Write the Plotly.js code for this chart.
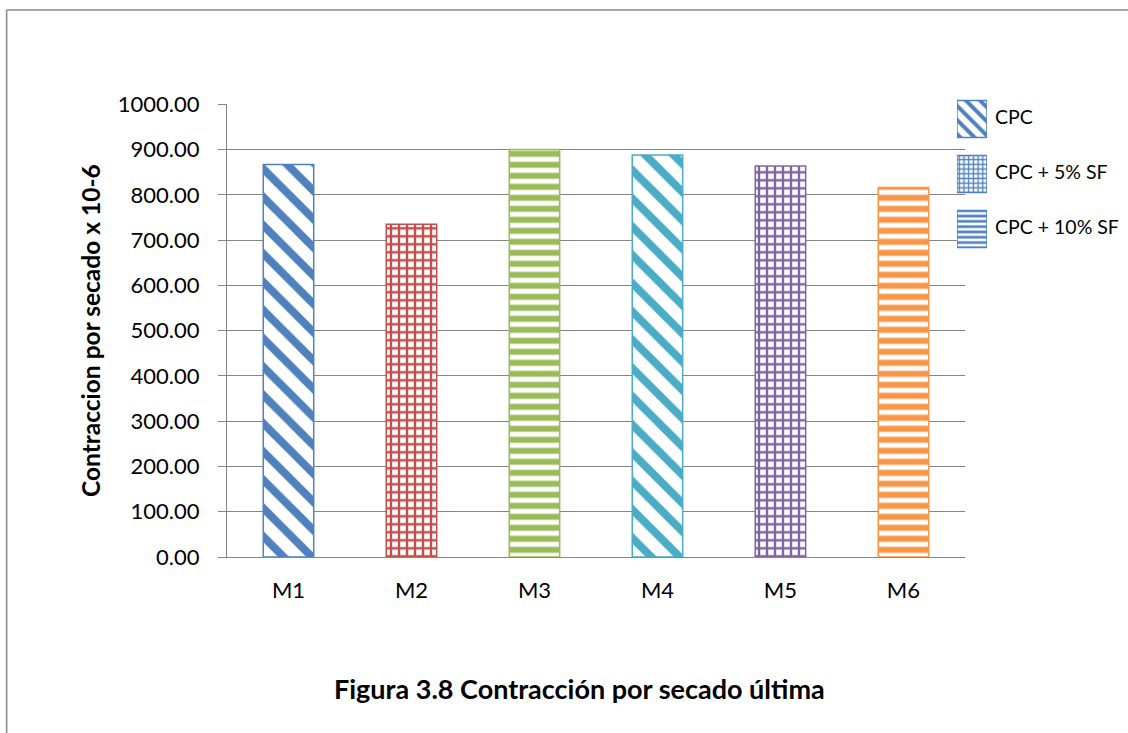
<!DOCTYPE html>
<html>
<head>
<meta charset="utf-8">
<script src="https://cdn.plot.ly/plotly-3.0.1.min.js"></script>
<style>html,body{margin:0;padding:0;background:#fff;}#chart{width:1128px;height:733px;}</style>
</head>
<body>
<div id="chart"></div>
<script>
// ---- data ----
const categories = ['M1', 'M2', 'M3', 'M4', 'M5', 'M6'];
const shrinkage = [867, 735, 900, 888, 864, 816];
const legendLabels = ['CPC', 'CPC + 5% SF', 'CPC + 10% SF'];
const legendValues = [1, 1, 1];
const yTickValues = [0, 100, 200, 300, 400, 500, 600, 700, 800, 900, 1000];
const titleText = 'Figura 3.8 Contracción por secado última';
const yTitleText = 'Contraccion por secado x 10-6';

// ---- styles ----
const barColors = ['#4F81BD', '#C0504D', '#9BBB59', '#4BACC6', '#8064A2', '#F79646'];
const barShapes = ['\\', '+', '-', '\\', '+', '-'];
const barPatSize = [20, 8, 11, 20, 8, 11];
const barSolidity = [0.4, 0.5, 0.55, 0.4, 0.5, 0.55];
const legendColor = '#4F81BD';
const legendShapes = ['\\', '+', '-'];
const legendPatSize = [10, 4.7, 5.3];
const legendSolidity = [0.4, 0.5, 0.5];

const font = 'Lato, "Open Sans", sans-serif';
const W = 1128, H = 733;
const L = 227.3, R = 8, T = 88, B = 176.3;
const pw = W - L - R, ph = H - T - B;
const px2x = p => (p - L) / pw;
const py2y = p => (H - B - p) / ph;

const mainTrace = {
  type: 'bar',
  x: categories,
  y: shrinkage,
  xaxis: 'x', yaxis: 'y',
  marker: {
    color: '#ffffff',
    line: {color: barColors, width: 1.5},
    pattern: {
      shape: barShapes,
      fgcolor: barColors,
      bgcolor: '#ffffff',
      fgopacity: 1,
      size: barPatSize,
      solidity: barSolidity,
      fillmode: 'replace'
    }
  },
  hoverinfo: 'x+y',
  showlegend: false
};

const legendTrace = {
  type: 'bar',
  orientation: 'h',
  x: legendValues,
  y: legendLabels,
  xaxis: 'x2', yaxis: 'y2',
  width: 37 / 55,
  marker: {
    color: '#ffffff',
    line: {color: legendColor, width: 1.5},
    pattern: {
      shape: legendShapes,
      fgcolor: legendColor,
      bgcolor: '#ffffff',
      fgopacity: 1,
      size: legendPatSize,
      solidity: legendSolidity,
      fillmode: 'replace'
    }
  },
  hoverinfo: 'y',
  showlegend: false
};

const legendAnnotations = legendLabels.map(lbl => ({
  xref: 'paper', yref: 'y2',
  x: px2x(993), y: lbl,
  xanchor: 'left', yanchor: 'middle',
  yshift: 3,
  text: lbl, showarrow: false,
  font: {family: font, size: 19.5, color: '#000'}
}));

const layout = {
  width: W, height: H,
  margin: {l: L, r: R, t: T, b: B, pad: 0},
  paper_bgcolor: '#ffffff',
  plot_bgcolor: 'rgba(0,0,0,0)',
  showlegend: false,
  bargap: 0.59,
  font: {family: font, color: '#000'},
  xaxis: {
    domain: [0, px2x(965)],
    type: 'category',
    showgrid: false,
    showline: true, linecolor: '#868686', linewidth: 1.3,
    ticks: '',
    tickfont: {family: font, size: 22, color: '#000'},
    ticklabelstandoff: 13,
    fixedrange: true
  },
  yaxis: {
    domain: [0, py2y(104.3)],
    range: [0, 1000],
    tickvals: yTickValues,
    tickformat: '.2f',
    showgrid: true, gridcolor: '#868686', gridwidth: 1.3,
    zeroline: false,
    showline: true, linecolor: '#868686', linewidth: 1.3,
    ticks: 'outside', ticklen: 8, tickcolor: '#868686', tickwidth: 1.3,
    tickfont: {family: font, size: 22, color: '#000'},
    ticklabelstandoff: 14,
    title: {text: yTitleText, font: {family: font, size: 24.5, color: '#000', weight: 'bold'}, standoff: 10},
    automargin: false,
    fixedrange: true
  },
  xaxis2: {
    domain: [px2x(957), px2x(987)],
    anchor: 'y2',
    range: [0, 1],
    visible: false,
    fixedrange: true
  },
  yaxis2: {
    domain: [py2y(256.5), py2y(91.5)],
    anchor: 'x2',
    type: 'category',
    autorange: 'reversed',
    visible: false,
    fixedrange: true
  },
  annotations: [
    {
      xref: 'paper', yref: 'paper',
      x: px2x(580), y: py2y(688),
      xanchor: 'center', yanchor: 'middle',
      text: '<b>' + titleText + '</b>', showarrow: false,
      font: {family: font, size: 27, color: '#000'}
    }
  ].concat(legendAnnotations),
  shapes: [
    {type: 'line', xref: 'paper', yref: 'paper', x0: px2x(7), x1: px2x(7), y0: py2y(10), y1: py2y(760), line: {color: '#8c8c8c', width: 1.6}},
    {type: 'line', xref: 'paper', yref: 'paper', x0: px2x(7), x1: px2x(1160), y0: py2y(10), y1: py2y(10), line: {color: '#8c8c8c', width: 1.6}}
  ]
};

Plotly.newPlot('chart', [mainTrace, legendTrace], layout, {displayModeBar: false});
</script>
</body>
</html>
